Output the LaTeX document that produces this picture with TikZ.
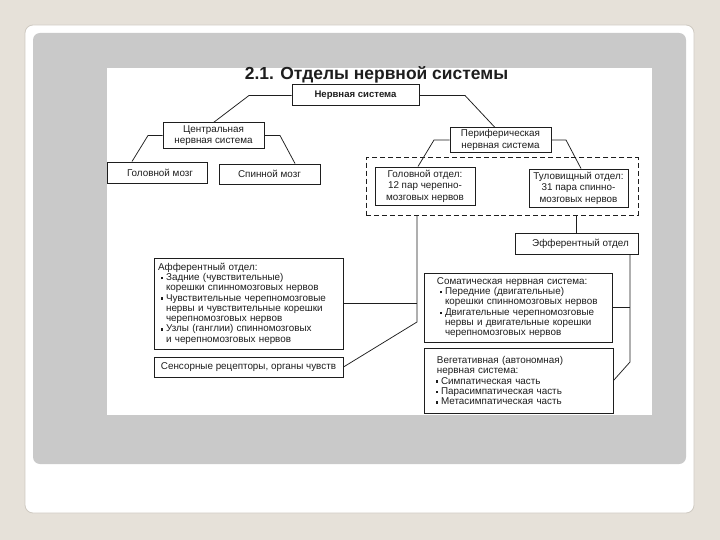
\documentclass[tikz,border=0pt]{standalone}
\usepackage{fontspec}
\setmainfont{Liberation Sans}
\usetikzlibrary{calc}
\definecolor{pagebg}{HTML}{E6E1D9}
\definecolor{cardedge}{HTML}{CFCAC2}
\definecolor{panel}{HTML}{C9C9C9}
\definecolor{ink}{HTML}{1E1E1E}
\newcommand{\bul}{\rule[0.2ex]{2.5pt}{2.5pt}\hspace{2.6pt}}
\newcommand{\indt}{\hspace*{5.1pt}}
\begin{document}
\begin{tikzpicture}[x=1bp,y=-1bp,
  box/.style={draw=ink, line width=1pt, fill=white, inner sep=0pt, align=center, text=ink,
    font=\fontsize{9.9}{11.5}\selectfont},
  listbox/.style={box, align=left, font=\fontsize{9.9}{10.3}\selectfont},
  dashbox/.style={draw=ink, line width=1pt, dash pattern=on 5pt off 3pt, inner sep=0pt},
  conn/.style={draw=ink, line width=0.75pt}]
\useasboundingbox (0,0) rectangle (720,540);
\fill[pagebg] (0,0) rectangle (720,540);
\filldraw[fill=white, draw=cardedge, line width=0.8pt, rounded corners=8bp] (25,25) rectangle (694,513);
\fill[panel, rounded corners=7bp] (33,33) rectangle (686,464);
\fill[white] (107,68) rectangle (652,415);

\node[font=\fontsize{17.5}{17.5}\selectfont\bfseries, anchor=base, text=ink] (title) at (376.5,80) {2.1. Отделы нервной системы};

\node[box, font=\fontsize{9.6}{11}\selectfont\bfseries, minimum width=127bp, minimum height=21bp] (ns) at (355.5,95.5) {Нервная система};
\node[box, minimum width=101bp, minimum height=25bp] (cns) at (213.5,135.5) {Центральная\\нервная система};
\node[box, minimum width=100bp, minimum height=21bp] (gm) at (157,172.5) {\hspace*{6bp}Головной мозг};
\node[box, minimum width=101bp, minimum height=20bp] (sm) at (269.5,174) {Спинной мозг};
\node[box, minimum width=101bp, minimum height=24bp] (pns) at (500.5,140) {Периферическая\\нервная система};
\node[dashbox, minimum width=272bp, minimum height=57bp] (grp) at (502,186.5) {};
\node[box, minimum width=100bp, minimum height=38bp] (go) at (425,186) {Головной отдел:\\12 пар черепно-\\мозговых нервов};
\node[box, minimum width=99bp, minimum height=38bp] (to) at (578.5,188) {Туловищный отдел:\\31 пара спинно-\\мозговых нервов};
\node[box, minimum width=123bp, minimum height=21bp] (eff) at (576.5,243.5) {\hspace*{8bp}Эфферентный отдел};

\node[listbox, text width=181bp, inner xsep=4bp, minimum height=91bp] (aff) at (248.5,303.5) {Афферентный отдел:\\
\hspace*{3pt}\bul Задние (чувствительные)\\
\hspace*{3pt}\indt корешки спинномозговых нервов\\
\hspace*{3pt}\bul Чувствительные черепномозговые\\
\hspace*{3pt}\indt нервы и чувствительные корешки\\
\hspace*{3pt}\indt черепномозговых нервов\\
\hspace*{3pt}\bul Узлы (ганглии) спинномозговых\\
\hspace*{3pt}\indt и черепномозговых нервов};
\node[box, minimum width=189bp, minimum height=20bp] (sens) at (248.5,367) {Сенсорные рецепторы, органы чувств};

\node[listbox, text width=174bp, inner xsep=7bp, minimum height=69bp] (som) at (518,307.5) {\hspace*{6pt}Соматическая нервная система:\\
\hspace*{9pt}\bul Передние (двигательные)\\
\hspace*{9pt}\indt корешки спинномозговых нервов\\
\hspace*{9pt}\bul Двигательные черепномозговые\\
\hspace*{9pt}\indt нервы и двигательные корешки\\
\hspace*{9pt}\indt черепномозговых нервов};
\node[listbox, text width=175bp, inner xsep=7bp, minimum height=65bp] (veg) at (518.5,380.5) {\hspace*{6pt}Вегетативная (автономная)\\
\hspace*{6pt}нервная система:\\
\hspace*{5pt}\bul Симпатическая часть\\
\hspace*{5pt}\bul Парасимпатическая часть\\
\hspace*{5pt}\bul Метасимпатическая часть};

\coordinate (j1) at (417,322);
\coordinate (j2) at (630,362);

\draw[conn] (ns.west) -- (249,95.5) -- (cns.north);
\draw[conn] (ns.east) -- (465,95.5) -- ([xshift=-5.5bp]pns.north);
\draw[conn] (cns.west) -- (148,135.5) -- ([xshift=-25bp]gm.north);
\draw[conn] (cns.east) -- (280,135.5) -- ([xshift=25.5bp]sm.north);
\draw[conn] (pns.west) -- (434,140) -- ([xshift=-7bp]go.north);
\draw[conn] (pns.east) -- (566,140) -- ([xshift=2.5bp]to.north);
\draw[conn] (grp.south -| j1) -- (j1) -- (sens.east);
\draw[conn] (aff.east) -- (aff.east -| j1);
\draw[conn] (grp.south -| eff.north) -- (eff.north);
\draw[conn] (eff.south -| j2) -- (j2) -- (veg.east);
\draw[conn] (som.east) -- (som.east -| j2);
\end{tikzpicture}
\end{document}
